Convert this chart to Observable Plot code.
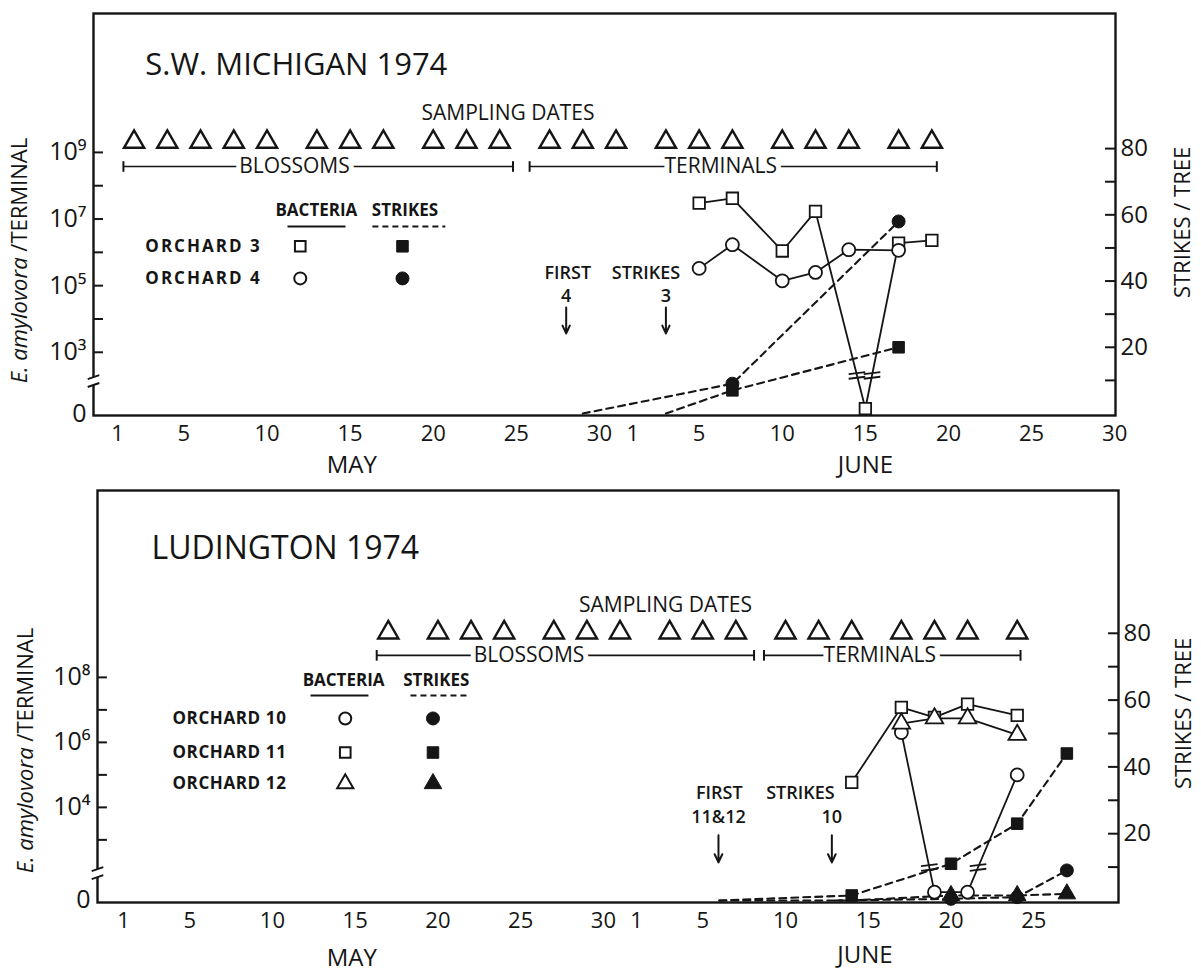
<!DOCTYPE html>
<html><head><meta charset="utf-8">
<script src="https://cdn.jsdelivr.net/npm/d3@7"></script>
<script src="https://cdn.jsdelivr.net/npm/@observablehq/plot@0.6"></script>
<style>
body{margin:0;background:#fff;}
#fig{position:relative;width:1201px;height:972px;overflow:hidden;background:#fff;}
#fig svg{position:absolute;left:0;}
</style></head><body><div id="fig"></div>
<script>
// ================= DATA =================
// day index: May 1 = 1 ... May 31 = 31, June 1 = 32 ... June 30 = 61
const xTickDays = [1,5,10,15,20,25,30,32,36,41,46,51,56,61];
const xTickLabels = ["1","5","10","15","20","25","30","1","5","10","15","20","25","30"];
const strikeTickValues = [10,20,30,40,50,60,70,80];
const strikeTickLabels = [20,40,60,80];

// ---- S.W. Michigan 1974 ----
const swSamplingDays = [2,4,6,8,10,13,15,17,20,22,24,27,29,31,34,36,38,41,43,45,48,50];
const swBact3Days = [36,38,41,43,46,48,50];
const swBact3 = [3.0e7,4.2e7,1.1e6,1.7e7,0,1.9e6,2.3e6];
const swBact4Days = [36,38,41,43,45,48];
const swBact4 = [3.3e5,1.7e6,1.4e5,2.5e5,1.2e6,1.15e6];
const swStrike3Days = [34,38,48];
const swStrike3 = [0,7,20];
const swStrike4Days = [29,38,48];
const swStrike4 = [0,9,58];
const swLogTicks = [3,4,5,6,7,8,9];
const swLogLabels = [9,7,5,3];

// ---- Ludington 1974 ----
const ldSamplingDays = [17,20,22,24,27,29,31,34,36,38,41,43,45,48,50,52,55];
const ldBact10Days = [48,50,52,55];
const ldBact10 = [2.0e6,0,0,1.0e5];
const ldBact11Days = [45,48,50,52,55];
const ldBact11 = [5.9e4,1.2e7,5.9e6,1.5e7,6.8e6];
const ldBact12Days = [48,50,52,55];
const ldBact12 = [3.8e6,5.5e6,5.5e6,1.7e6];
const ldStrike10Days = [44,51,55,58];
const ldStrike10 = [0,0.5,1,9];
const ldStrike11Days = [37,45,51,55,58];
const ldStrike11 = [0,1.5,11,23,44];
const ldStrike12Days = [37,45,51,55,58];
const ldStrike12 = [0,0,1.5,1.5,2];
const ldLogTicks = [3,4,5,6,7,8];
const ldLogLabels = [8,6,4];

// ================= RENDER =================
const F = "'Open Sans','DejaVu Sans',sans-serif";
const INK = "#151515";
const SUP = {0:"⁰",1:"¹",2:"²",3:"³",4:"⁴",5:"⁵",6:"⁶",7:"⁷",8:"⁸",9:"⁹"};
const YTITLE = "E. amylovora/TERMINAL";
const series = (days, vals) => days.map((d,i)=>({day:d, v:vals[i]}));

function drawPanel(p) {
  const sOf = v => v === 0 ? p.zeroS : p.refS + (Math.log10(v) - p.refL) * p.perDecade;
  const x0 = p.xDomain[0], x1 = p.xDomain[1];
  const M = [];
  M.push(Plot.frame({stroke: INK, strokeWidth: 2.4}));
  // broken left axis
  M.push(Plot.rect([0], {x1: () => x0-0.45, x2: () => x0+0.45, y1: () => p.axisGap[0], y2: () => p.axisGap[1], fill: "white"}));
  M.push(Plot.link([p.axisGap[0], p.axisGap[1]], {x1: () => x0-0.35, x2: () => x0+0.35, y1: d => d-0.5, y2: d => d+0.7, stroke: INK, strokeWidth: 2}));
  // inward tick marks
  const logS = p.logTicks.map(L => sOf(Math.pow(10, L)));
  M.push(Plot.ruleY(logS, {y: d => d, x1: () => x0, x2: () => x0+0.6, stroke: INK, strokeWidth: 2}));
  M.push(Plot.ruleY(strikeTickValues, {y: d => d, x1: () => x1-0.6, x2: () => x1, stroke: INK, strokeWidth: 2}));
  // axes
  const leftVals = p.logLabels.map(L => sOf(Math.pow(10, L))).concat([0]);
  const leftText = new Map(p.logLabels.map(L => [sOf(Math.pow(10,L)), "10" + SUP[L]]).concat([[0, "0"]]));
  M.push(Plot.axisY(leftVals, {anchor: "left", tickSize: 0, tickPadding: 7, fontSize: 25, label: null, tickFormat: d => leftText.get(d)}));
  M.push(Plot.axisY(strikeTickLabels, {anchor: "right", tickSize: 0, tickPadding: 5, fontSize: 24, label: null}));
  const xText = new Map(xTickDays.map((d,i)=>[d, xTickLabels[i]]));
  const xt = xTickDays.filter(d => d <= p.lastTick);
  M.push(Plot.axisX(xt, {anchor: "bottom", tickSize: 0, tickPadding: 10, fontSize: 22, label: null, tickFormat: d => xText.get(d)}));
  // axis titles
  M.push(Plot.text([YTITLE], {frameAnchor: "left", dx: p.ytitleDx, y: () => p.ytitleS, rotate: -90, textAnchor: "middle", fontSize: 22, fill: INK}));
  M.push(Plot.text(["STRIKES / TREE"], {frameAnchor: "right", dx: p.rtitleDx, y: () => p.rtitleS, rotate: -90, textAnchor: "middle", fontSize: 22, fill: INK}));
  M.push(Plot.text(p.months, {x: "day", y: "s", text: "text", fontSize: 24, fill: INK}));
  // title
  M.push(Plot.text([p.title], {x: () => p.titleDay, y: () => p.titleS, text: d => d, textAnchor: "start", fontSize: p.titleSize, fill: INK}));
  // sampling dates
  M.push(Plot.text(["SAMPLING DATES"], {x: () => p.samplingDay, y: () => p.samplingS, text: d => d, fontSize: 21, fill: INK}));
  M.push(Plot.dot(p.sampling, {x: d => d, y: () => p.triS, symbol: "triangle", r: 7.5, stroke: INK, strokeWidth: 2.4, fill: "none"}));
  // blossoms / terminals bars
  M.push(Plot.link(p.bars, {x1: "from", x2: "to", y1: () => p.barS, y2: () => p.barS, stroke: INK, strokeWidth: 1.6}));
  const ends = p.bars.flatMap(b => [b.from, b.to]);
  M.push(Plot.link(ends, {x1: d => d, x2: d => d, y1: () => p.barS-1.6, y2: () => p.barS+1.6, stroke: INK, strokeWidth: 2}));
  M.push(Plot.text(p.bars, {x: "mid", y: () => p.barS, text: "label", fontSize: 21, fill: INK, stroke: "white", strokeWidth: 10}));
  // legend
  const lg = p.legend;
  M.push(Plot.text([["BACTERIA", lg.bactDay], ["STRIKES", lg.strikeDay]], {x: d => d[1], y: () => lg.headS, text: d => d[0], fontSize: 17, fontWeight: "bold", fill: INK}));
  M.push(Plot.link([lg.solid], {x1: d => d[0], x2: d => d[1], y1: () => lg.lineS, y2: () => lg.lineS, stroke: INK, strokeWidth: 2}));
  M.push(Plot.link([lg.dashed], {x1: d => d[0], x2: d => d[1], y1: () => lg.lineS, y2: () => lg.lineS, stroke: INK, strokeWidth: 2, strokeDasharray: "6,4"}));
  M.push(Plot.text(lg.rows, {x: () => lg.labelDay, y: "s", text: "label", textAnchor: "start", fontSize: 17, fontWeight: "bold", fill: INK}));
  M.push(Plot.dot(lg.rows, {x: () => lg.openDay, y: "s", symbol: "sym", r: 6, stroke: INK, strokeWidth: 2, fill: "white"}));
  M.push(Plot.dot(lg.rows, {x: () => lg.fillDay, y: "s", symbol: "sym", r: 6.5, stroke: INK, strokeWidth: 1, fill: INK}));
  // first strikes
  M.push(Plot.text(p.first, {x: "day", y: () => p.firstS, text: "text", fontSize: 18, fontWeight: 600, fill: INK}));
  M.push(Plot.text(p.arrows, {x: "day", y: () => p.arrowLabelS, text: "label", fontSize: 18, fontWeight: 600, fill: INK}));
  M.push(Plot.arrow(p.arrows, {x1: "day", x2: "day", y1: () => p.arrowTop, y2: () => p.arrowBottom, stroke: INK, strokeWidth: 2, headLength: 9, headAngle: 50}));
  // strikes (dashed)
  for (const st of p.strikes) {
    const pts = series(st.days, st.vals);
    M.push(Plot.line(pts, {x: "day", y: "v", stroke: INK, strokeWidth: 2.1, strokeDasharray: "7,5"}));
  }
  // bacteria (solid)
  for (const b of p.bact) {
    const pts = series(b.days, b.vals);
    M.push(Plot.line(pts, {x: "day", y: d => sOf(d.v), stroke: INK, strokeWidth: 1.8}));
    const marks = [];
    for (let i = 0; i < pts.length-1; i++) {
      const a = pts[i], c = pts[i+1];
      if ((a.v === 0) !== (c.v === 0)) {
        const sa = sOf(a.v), sc = sOf(c.v);
        const t = (p.lineBreakS - sa) / (sc - sa);
        const xc = a.day + t*(c.day - a.day);
        for (const off of [-0.7, 0.7]) marks.push({x1: xc-0.5, x2: xc+0.5, y1: p.lineBreakS+off-0.3, y2: p.lineBreakS+off+0.3});
      }
    }
    if (marks.length) M.push(Plot.link(marks, {x1: "x1", x2: "x2", y1: "y1", y2: "y2", stroke: INK, strokeWidth: 1.8}));
  }
  for (const st of p.strikes) {
    const pts = series(st.days, st.vals).filter(d => d.v > 0);
    M.push(Plot.dot(pts, {x: "day", y: "v", symbol: st.sym, r: 6.5, fill: INK, stroke: INK, strokeWidth: 1}));
  }
  for (const b of p.bact) {
    const pts = series(b.days, b.vals);
    M.push(Plot.dot(pts, {x: "day", y: d => sOf(d.v), symbol: b.sym, r: 6.5, fill: "white", stroke: INK, strokeWidth: 1.8}));
  }
  const svg = Plot.plot({
    width: 1201, height: p.height,
    marginTop: p.mt, marginBottom: p.mb, marginLeft: p.ml, marginRight: p.mr,
    x: {domain: p.xDomain}, y: {domain: p.yDomain},
    style: {fontFamily: F, fontSize: "20px", color: INK, background: "transparent", overflow: "visible"},
    marks: M
  });
  const ns = "http://www.w3.org/2000/svg";
  svg.querySelectorAll("text").forEach(t => {
    // italic species name inside the y-axis title
    if (t.textContent === YTITLE) {
      t.textContent = "";
      const a = document.createElementNS(ns, "tspan");
      a.setAttribute("font-style", "italic");
      a.textContent = "E. amylovora ";
      const b = document.createElementNS(ns, "tspan");
      b.textContent = "/TERMINAL";
      t.appendChild(a); t.appendChild(b);
    }
    // wider tracking on legend row labels, as in the original
    if (/^ORCHARD/.test(t.textContent)) t.setAttribute("letter-spacing", p.orchardTracking);
  });
  svg.style.top = p.top + "px";
  document.getElementById("fig").appendChild(svg);
}

drawPanel({
  top: 0, height: 480, mt: 13, mb: 65, ml: 93, mr: 86,
  xDomain: [-0.44, 61.05], yDomain: [-0.6, 120.8], lastTick: 61,
  refL: 9, refS: 78.85, perDecade: 10.06, zeroS: 1.5, lineBreakS: 11.5, axisGap: [8.5, 10.9],
  logTicks: swLogTicks, logLabels: swLogLabels, orchardTracking: "2px",
  ytitleDx: -74, ytitleS: 46.2, rtitleDx: 67, rtitleS: 57.7,
  months: [{text: "MAY", day: 15.1, s: -15.7}, {text: "JUNE", day: 46.0, s: -15.7}],
  title: "S.W. MICHIGAN 1974", titleSize: 31, titleDay: 2.68, titleS: 105.1,
  samplingDay: 24.5, samplingS: 90.6, sampling: swSamplingDays, triS: 82,
  bars: [{label: "BLOSSOMS", from: 1.36, to: 24.8, mid: 11.65}, {label: "TERMINALS", from: 25.8, to: 50.3, mid: 37.3}], barS: 74.6,
  legend: {headS: 61.3, bactDay: 12.97, strikeDay: 18.3, lineS: 56.5, solid: [11.23, 14.72], dashed: [16.34, 20.73],
    labelDay: 2.68, openDay: 12.0, fillDay: 18.15,
    rows: [{label: "ORCHARD 3", s: 50.5, sym: "square"}, {label: "ORCHARD 4", s: 40.8, sym: "circle"}]},
  first: [{text: "FIRST", day: 28.1}, {text: "STRIKES", day: 32.8}], firstS: 42.3,
  arrows: [{label: "4", day: 28.0}, {label: "3", day: 34.0}], arrowLabelS: 35.3, arrowTop: 32, arrowBottom: 24.2,
  strikes: [{days: swStrike3Days, vals: swStrike3, sym: "square"}, {days: swStrike4Days, vals: swStrike4, sym: "circle"}],
  bact: [{days: swBact3Days, vals: swBact3, sym: "square"}, {days: swBact4Days, vals: swBact4, sym: "circle"}]
});

drawPanel({
  top: 480, height: 492, mt: 10, mb: 70, ml: 97, mr: 83,
  xDomain: [-0.57, 61.12], yDomain: [-0.6, 122.75], lastTick: 56,
  refL: 8, refS: 66.8, perDecade: 9.73, zeroS: 2.5, lineBreakS: 9.9, axisGap: [6.9, 9.3],
  logTicks: ldLogTicks, logLabels: ldLogLabels, orchardTracking: "0.6px",
  ytitleDx: -72, ytitleS: 44.9, rtitleDx: 65, rtitleS: 56.0,
  months: [{text: "MAY", day: 14.8, s: -17.4}, {text: "JUNE", day: 45.8, s: -16.5}],
  title: "LUDINGTON 1974", titleSize: 32, titleDay: 2.69, titleS: 105.4,
  samplingDay: 33.75, samplingS: 88.3, sampling: ldSamplingDays, triS: 80.2,
  bars: [{label: "BLOSSOMS", from: 16.3, to: 39.1, mid: 25.5}, {label: "TERMINALS", from: 39.7, to: 55.2, mid: 46.7}], barS: 73.4,
  legend: {headS: 65.9, bactDay: 14.3, strikeDay: 19.9, lineS: 61.4, solid: [12.3, 15.8], dashed: [18.34, 21.8],
    labelDay: 3.96, openDay: 14.4, fillDay: 19.7,
    rows: [{label: "ORCHARD 10", s: 54.5, sym: "circle"}, {label: "ORCHARD 11", s: 44.3, sym: "square"}, {label: "ORCHARD 12", s: 35.0, sym: "triangle"}]},
  first: [{text: "FIRST", day: 37.0}, {text: "STRIKES", day: 41.9}], firstS: 32.0,
  arrows: [{label: "11&12", day: 36.95}, {label: "10", day: 43.8}], arrowLabelS: 24.9, arrowTop: 19.5, arrowBottom: 11.4,
  strikes: [{days: ldStrike10Days, vals: ldStrike10, sym: "circle"}, {days: ldStrike11Days, vals: ldStrike11, sym: "square"}, {days: ldStrike12Days, vals: ldStrike12, sym: "triangle"}],
  bact: [{days: ldBact10Days, vals: ldBact10, sym: "circle"}, {days: ldBact11Days, vals: ldBact11, sym: "square"}, {days: ldBact12Days, vals: ldBact12, sym: "triangle"}]
});
</script></body></html>
